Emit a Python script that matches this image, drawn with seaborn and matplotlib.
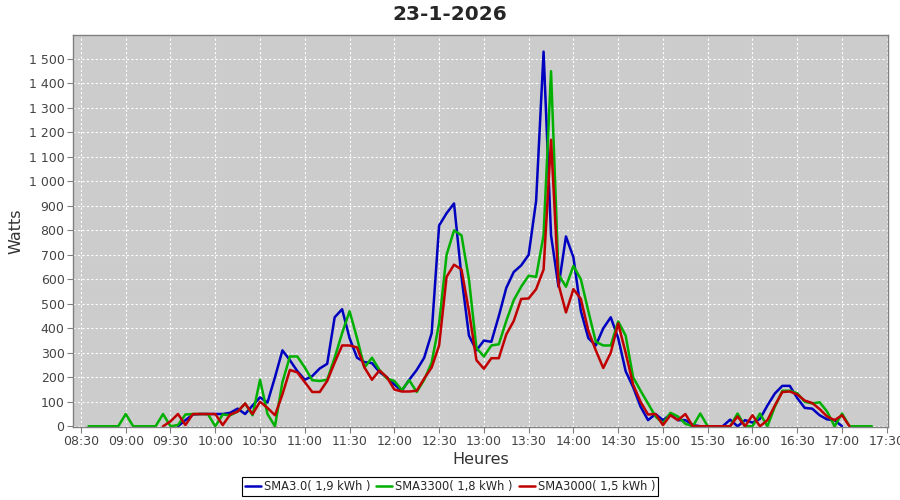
import numpy as np
import pandas as pd
import seaborn as sns
import matplotlib
matplotlib.use("Agg")
import matplotlib.pyplot as plt
import matplotlib.dates as mdates
from matplotlib.ticker import FuncFormatter, MultipleLocator

# %% data (W, one reading every 5 minutes)
day = "2026-01-23"
title = "23-1-2026"

labels = ["SMA3.0( 1,9 kWh )", "SMA3300( 1,8 kWh )", "SMA3000( 1,5 kWh )"]
starts = ["09:35", "08:35", "09:25"]

sma30 = [0, 25, 48, 50, 50, 50, 50, 55, 72, 50, 85, 118, 97, 200, 310, 270,
         225, 190, 205, 236, 255, 445, 478, 360, 280, 262, 258, 222, 200, 170,
         145, 190, 230, 280, 380, 820, 870, 910, 610, 370, 310, 350, 345, 450,
         565, 630, 657, 700, 920, 1530, 780, 570, 775, 690, 470, 360, 330, 400,
         445, 360, 225, 160, 80, 25, 50, 25, 48, 25, 25, 5, 0, 0, 0, 0, 27, 0,
         25, 15, 30, 85, 134, 165, 165, 115, 75, 72, 45, 28, 25, 0]

sma3300 = [0, 0, 0, 0, 0, 50, 0, 0, 0, 0, 50, 0, 5, 48, 50, 50, 50, 0, 48, 45,
           60, 93, 45, 190, 50, 0, 180, 285, 285, 240, 188, 185, 190, 280, 380,
           470, 360, 240, 280, 230, 195, 185, 148, 188, 140, 190, 260, 420, 700,
           800, 780, 600, 320, 285, 330, 335, 430, 515, 570, 615, 610, 780,
           1450, 620, 570, 655, 600, 470, 345, 330, 330, 428, 370, 200, 145, 93,
           40, 12, 55, 40, 10, 0, 52, 0, 0, 0, 0, 52, 0, 0, 52, 0, 80, 145, 145,
           135, 100, 93, 98, 60, 0, 52, 0, 0, 0, 0]

sma3000 = [0, 20, 50, 5, 50, 50, 50, 50, 5, 48, 60, 93, 50, 100, 75, 45, 130,
           230, 220, 180, 140, 140, 185, 260, 330, 330, 322, 240, 190, 228, 200,
           150, 142, 142, 145, 195, 240, 330, 610, 660, 640, 470, 270, 235, 278,
           278, 375, 430, 520, 522, 560, 640, 1170, 580, 465, 560, 520, 390, 310,
           238, 300, 420, 300, 170, 100, 48, 50, 5, 45, 25, 50, 0, 0, 0, 0, 0, 0,
           40, 0, 45, 0, 25, 85, 140, 142, 130, 105, 95, 70, 40, 25, 45, 0]

colors = ["#0000C0", "#00B000", "#C00000"]

# %% build long table
frames = []
for lab, st, vals in zip(labels, starts, [sma30, sma3300, sma3000]):
    t = pd.date_range(f"{day} {st}", periods=len(vals), freq="5min")
    frames.append(pd.DataFrame({"Heures": t, "Watts": vals, "Onduleur": lab}))
df = pd.concat(frames, ignore_index=True)

# %% style
sns.set_style("whitegrid", rc={"axes.facecolor": "#CCCCCC",
                               "grid.color": "white",
                               "grid.linestyle": (0, (2, 2)),
                               "grid.linewidth": 0.8,
                               "axes.edgecolor": "#808080",
                               "xtick.bottom": True,
                               "ytick.left": True})
plt.rcParams["font.family"] = ["DejaVu Sans"]

fig = plt.figure(figsize=(9, 5), dpi=100)
ax = fig.add_axes([0.081, 0.146, 0.906, 0.784])

sns.lineplot(data=df, x="Heures", y="Watts", hue="Onduleur",
             palette=colors, linewidth=1.8, ax=ax, legend=True)

ax.set_xlim(pd.Timestamp(f"{day} 08:24:36"), pd.Timestamp(f"{day} 17:31"))
ax.set_ylim(-3, 1598)
ax.xaxis.set_major_locator(mdates.MinuteLocator(byminute=[0, 30]))
ax.xaxis.set_major_formatter(mdates.DateFormatter("%H:%M"))
ax.yaxis.set_major_locator(MultipleLocator(100))
ax.yaxis.set_major_formatter(FuncFormatter(lambda v, p: f"{v:,.0f}".replace(",", " ")))
ax.tick_params(axis="both", labelsize=9, colors="#444444", length=4,
               width=0.8, direction="out", pad=2)
ax.tick_params(axis="both", color="#808080")
for s in ax.spines.values():
    s.set_linewidth(1.0)

ax.set_xlabel("Heures", fontsize=11.5, color="#333333", labelpad=3)
ax.set_ylabel("Watts", fontsize=11.5, color="#333333", labelpad=4)
fig.suptitle(title, fontsize=14.5, fontweight="bold", y=0.99)

# legend centred under the whole figure, like the reference
h, l = ax.get_legend_handles_labels()
ax.get_legend().remove()
leg = fig.legend(h, l, loc="upper center", bbox_to_anchor=(0.5, 0.046), ncol=3,
                 frameon=True, fancybox=False, edgecolor="black", fontsize=8.3,
                 handlelength=1.4, handletextpad=0.25, columnspacing=0.5,
                 borderpad=0.25, borderaxespad=0, facecolor="white",
                 framealpha=1)
leg.get_frame().set_linewidth(0.8)

plt.savefig("out.png", dpi=100)
